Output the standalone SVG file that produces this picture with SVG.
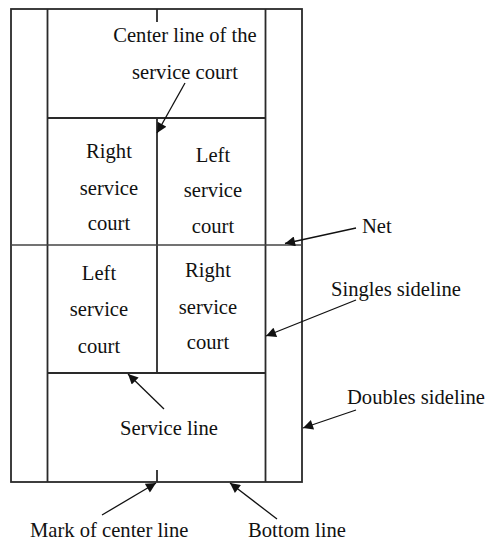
<svg xmlns="http://www.w3.org/2000/svg" width="486" height="541" viewBox="0 0 486 541">
<style>
.ln{stroke:#2a2a2a;stroke-width:1.8;fill:none}
.thin{stroke:#444;stroke-width:1.3;fill:none}
.t{font-family:"Liberation Serif","Times New Roman",serif;font-size:20.6px;fill:#111}
.c{text-anchor:middle}
.ar{stroke:#111;stroke-width:1.3;fill:none;marker-end:url(#ah)}
</style>
<defs>
<marker id="ah" viewBox="0 0 10 10" refX="10" refY="5" markerWidth="12" markerHeight="10" markerUnits="userSpaceOnUse" orient="auto">
<path d="M0,0 L10,5 L0,10 z" fill="#111"/>
</marker>
</defs>
<g id="court">
<rect class="ln" x="11" y="9" width="291" height="473"/>
<line class="ln" x1="47.5" y1="9" x2="47.5" y2="482"/>
<line class="ln" x1="265.5" y1="9" x2="265.5" y2="482"/>
<line class="ln" x1="47.5" y1="118" x2="265.5" y2="118"/>
<line class="ln" x1="47.5" y1="373" x2="265.5" y2="373"/>
<line class="ln" x1="157" y1="118" x2="157" y2="373"/>
<line class="ln" x1="157" y1="9" x2="157" y2="22"/>
<line class="ln" x1="157" y1="470" x2="157" y2="482"/>
<line class="thin" x1="11" y1="245" x2="302" y2="245"/>
</g>
<g id="labels-courts">
<text class="t c" x="109" y="158">Right</text>
<text class="t c" x="109" y="195">service</text>
<text class="t c" x="109" y="230">court</text>
<text class="t c" x="213" y="162">Left</text>
<text class="t c" x="213" y="197">service</text>
<text class="t c" x="213" y="233">court</text>
<text class="t c" x="99" y="280">Left</text>
<text class="t c" x="99" y="316">service</text>
<text class="t c" x="99" y="353">court</text>
<text class="t c" x="208" y="277">Right</text>
<text class="t c" x="208" y="314">service</text>
<text class="t c" x="208" y="349">court</text>
</g>
<g id="callouts">
<text class="t c" x="185" y="42">Center line of the</text>
<text class="t c" x="185" y="79">service court</text>
<text class="t" x="362" y="233">Net</text>
<text class="t" x="331" y="296">Singles sideline</text>
<text class="t" x="347" y="404">Doubles sideline</text>
<text class="t c" x="169" y="435">Service line</text>
<text class="t" x="30" y="537">Mark of center line</text>
<text class="t" x="248" y="537">Bottom line</text>
</g>
<g id="connectors">
<line class="ar" x1="185" y1="83" x2="157" y2="133"/>
<line class="ar" x1="356" y1="228" x2="285" y2="243.5"/>
<line class="ar" x1="356" y1="300" x2="266" y2="336"/>
<line class="ar" x1="356" y1="410" x2="303" y2="428"/>
<line class="ar" x1="164" y1="409" x2="128" y2="374"/>
<line class="ar" x1="102" y1="515" x2="156" y2="483"/>
<line class="ar" x1="277" y1="519" x2="230" y2="483"/>
</g>
</svg>
